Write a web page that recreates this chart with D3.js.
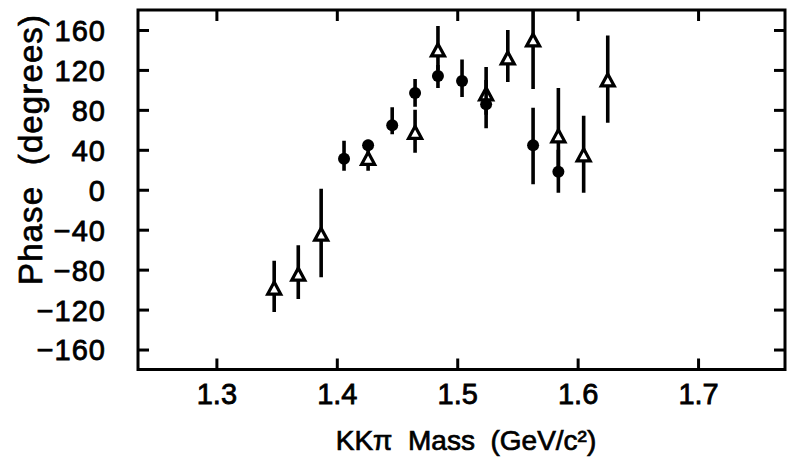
<!DOCTYPE html>
<html>
<head>
<meta charset="utf-8">
<script src="https://cdn.jsdelivr.net/npm/d3@7"></script>
<style>
  html, body { margin: 0; padding: 0; background: #fff; }
  svg { display: block; }
  text { font-family: "Liberation Sans", Arial, Helvetica, sans-serif; fill: #000; }
</style>
</head>
<body>
<svg id="chart" width="788" height="464"></svg>
<script>
// ---- data ----
const xTicks = [1.3, 1.4, 1.5, 1.6, 1.7];
const yTicks = [160, 120, 80, 40, 0, -40, -80, -120, -160];

// open triangles
const triMass  = [1.348, 1.368, 1.387, 1.426, 1.465, 1.484, 1.524, 1.542, 1.563, 1.584, 1.605, 1.625];
const triPhase = [-99.5, -85.5, -45.5, 30.5, 56.5, 139, 95, 131, 149, 53, 34, 109];
const triLow   = [-122.5, -109.5, -87.5, 19, 37, 120, 75, 108, 101, 20, -3, 67];
const triHigh  = [-71, -55.5, 1, 42, 80, 164, 123, 160, 190, 102, 74, 154.5];

// filled circles
const cirMass  = [1.406, 1.426, 1.446, 1.465, 1.484, 1.504, 1.524, 1.563, 1.584];
const cirPhase = [31, 44.5, 64.5, 97, 114, 109, 85.5, 44.5, 18];
const cirLow   = [19, 39, 55.5, 83, 102, 93, 61.5, 5.5, -3];
const cirHigh  = [49, 50, 82.5, 111, 125, 130.5, 110, 82, 40];

const xLabel = "KKπ  Mass  (GeV/c²)";
const yLabel = "Phase  (degrees)";

// ---- layout ----
const L = 138, R = 785, T = 10, B = 369.5;
const svg = d3.select("#chart");

const x = d3.scaleLinear().domain([1.2349, 1.7722]).range([L, R]);
const y = d3.scaleLinear().domain([-180, 180]).range([B, T]);

svg.append("defs").append("clipPath").attr("id", "clip")
  .append("rect").attr("x", L).attr("y", T).attr("width", R - L).attr("height", B - T);

// axes (inward ticks on all sides)
const tickLen = 11;
const gB = svg.append("g").attr("transform", `translate(0,${B})`)
  .call(d3.axisBottom(x).tickValues(xTicks).tickSize(-tickLen).tickFormat(d3.format(".1f")));
const gT = svg.append("g").attr("transform", `translate(0,${T})`)
  .call(d3.axisTop(x).tickValues(xTicks).tickSize(-tickLen).tickFormat(""));
const gL = svg.append("g").attr("transform", `translate(${L},0)`)
  .call(d3.axisLeft(y).tickValues(yTicks).tickSize(-tickLen).tickPadding(tickLen + 21).tickFormat(d => d < 0 ? "\u2212" + Math.abs(d) : d));
const gR = svg.append("g").attr("transform", `translate(${R},0)`)
  .call(d3.axisRight(y).tickValues(yTicks).tickSize(-tickLen).tickFormat(""));

[gB, gT, gL, gR].forEach(g => {
  g.attr("font-size", null).attr("font-family", null);
  g.select(".domain").remove();
  g.selectAll(".tick line").attr("stroke", "#000").attr("stroke-width", 3);
  g.selectAll(".tick text")
    .style("font-size", "29px").style("fill", "#000")
    .style("stroke", "#000").style("stroke-width", "0.8px")
    .style("font-family", '"Liberation Sans", Arial, sans-serif');
});
gB.selectAll(".tick text").attr("dy", "0").attr("y", 403.5 - B);
gL.selectAll(".tick text").attr("dy", "0.36em").style("letter-spacing", "1px");

// frame
svg.append("rect").attr("x", L).attr("y", T).attr("width", R - L).attr("height", B - T)
  .attr("fill", "none").attr("stroke", "#000").attr("stroke-width", 3);

const plot = svg.append("g").attr("clip-path", "url(#clip)");

const triData = triMass.map((m, i) => ({ m, v: triPhase[i], lo: triLow[i], hi: triHigh[i] }));
const cirData = cirMass.map((m, i) => ({ m, v: cirPhase[i], lo: cirLow[i], hi: cirHigh[i] }));

// triangles: error bars then markers
plot.selectAll(".tbar").data(triData).join("line")
  .attr("x1", d => x(d.m)).attr("x2", d => x(d.m))
  .attr("y1", d => y(d.lo)).attr("y2", d => y(d.hi))
  .attr("stroke", "#000").attr("stroke-width", 3.6);

const triPath = "M0,-7L6.5,5L-6.5,5Z";
plot.selectAll(".tri").data(triData).join("path")
  .attr("d", triPath)
  .attr("transform", d => `translate(${x(d.m)},${y(d.v)})`)
  .attr("fill", "#fff").attr("stroke", "#000").attr("stroke-width", 3.2).attr("stroke-linejoin", "miter");

// circles: error bars then markers
plot.selectAll(".cbar").data(cirData).join("line")
  .attr("x1", d => x(d.m)).attr("x2", d => x(d.m))
  .attr("y1", d => y(d.lo)).attr("y2", d => y(d.hi))
  .attr("stroke", "#000").attr("stroke-width", 3.6);

plot.selectAll(".cir").data(cirData).join("circle")
  .attr("cx", d => x(d.m)).attr("cy", d => y(d.v)).attr("r", 6)
  .attr("fill", "#000");

// axis titles
svg.append("text")
  .attr("x", 466).attr("y", 450)
  .attr("text-anchor", "middle")
  .style("font-size", "28px").style("stroke", "#000").style("stroke-width", "0.7px")
  .style("white-space", "pre")
  .text(xLabel);

svg.append("text")
  .attr("transform", "translate(42,150) rotate(-90)")
  .attr("text-anchor", "middle")
  .attr("textLength", 270).attr("lengthAdjust", "spacing")
  .style("font-size", "33px").style("stroke", "#000").style("stroke-width", "0.7px")
  .style("white-space", "pre")
  .text(yLabel);
</script>
</body>
</html>
